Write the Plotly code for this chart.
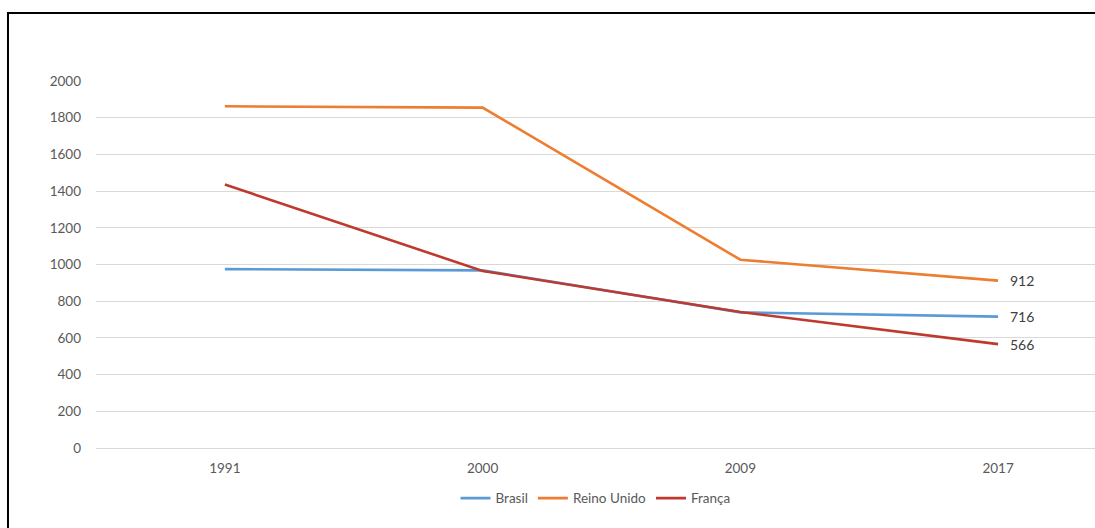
import plotly.graph_objects as go

# Anos e séries
anos = ["1991", "2000", "2009", "2017"]
brasil = [975, 968, 739, 716]
reino_unido = [1862, 1855, 1026, 912]
franca = [1436, 965, 741, 566]

series = [
    ("Brasil", brasil, "#5B9BD5"),
    ("Reino Unido", reino_unido, "#ED7D31"),
    ("França", franca, "#BE3A2E"),
]

FONT = "Lato, Carlito, Calibri, sans-serif"
GRAY = "#595959"

fig = go.Figure()
xs = list(range(len(anos)))
for nome, vals, cor in series:
    fig.add_trace(go.Scatter(
        x=xs, y=vals, name=nome, mode="lines",
        line=dict(color=cor, width=2.6),
        hoverinfo="skip",
    ))
    # rótulo do último valor
    fig.add_annotation(
        x=xs[-1], y=vals[-1], text=str(vals[-1]), showarrow=False,
        xanchor="left", yanchor="middle", xshift=10,
        font=dict(family=FONT, size=14, color="#404040"),
    )

fig.update_layout(
    width=1095, height=528,
    margin=dict(l=96, r=0, t=81, b=80),
    paper_bgcolor="white", plot_bgcolor="white",
    font=dict(family=FONT, size=13.5, color=GRAY),
    showlegend=True,
    legend=dict(orientation="h", x=0.5, xanchor="center", y=-0.095, yanchor="top",
                font=dict(family=FONT, size=13.5, color=GRAY),
                itemwidth=30, tracegroupgap=0),
    xaxis=dict(
        tickmode="array", tickvals=xs, ticktext=anos,
        range=[-0.5, 3.376], showgrid=False, zeroline=False,
        showline=False, ticks="", ticklabelstandoff=10,
        tickfont=dict(size=13.5, color=GRAY), fixedrange=True,
    ),
    yaxis=dict(
        range=[0, 2000], dtick=200, showgrid=True, gridcolor="#D9D9D9",
        gridwidth=1, zeroline=True, zerolinecolor="#D9D9D9", zerolinewidth=1,
        showline=False, ticks="", ticklabelstandoff=14,
        tickfont=dict(size=13.5, color=GRAY), fixedrange=True,
    ),
)

# Moldura do gráfico
fig.add_shape(type="rect", xref="paper", yref="paper",
              x0=-0.0881, x1=1.05, y0=-0.3, y1=1.1853,
              line=dict(color="black", width=2), layer="above")

fig.write_html("out.html")
